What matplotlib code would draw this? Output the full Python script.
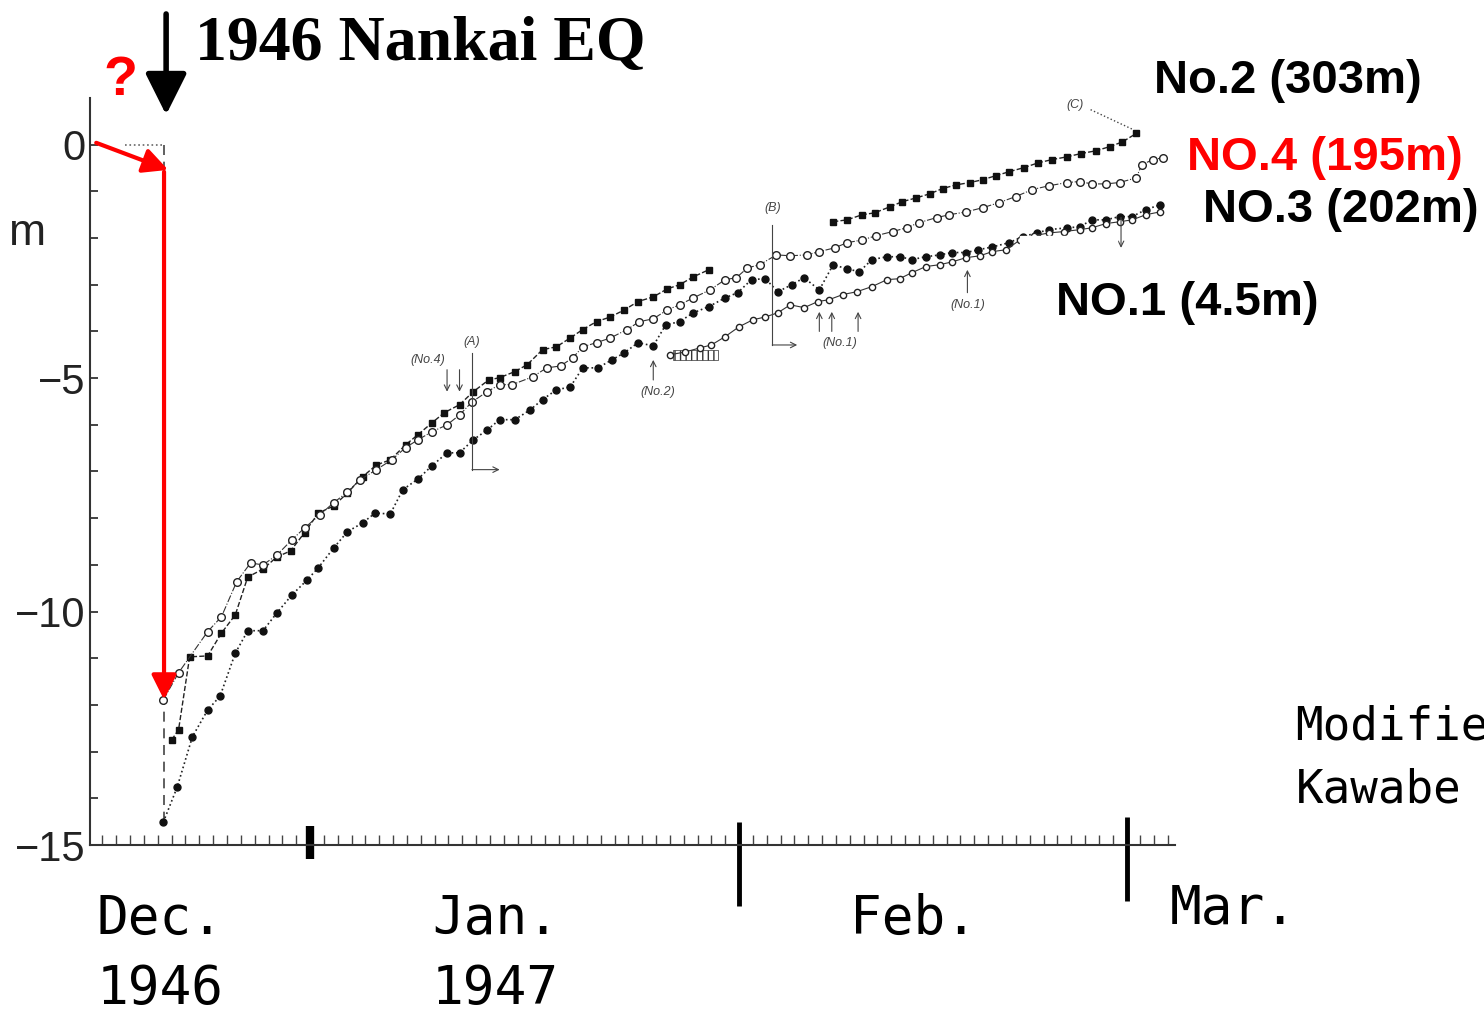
import numpy as np
import matplotlib.pyplot as plt
from matplotlib.patches import Rectangle

plt.rcParams['font.family'] = ['Liberation Sans', 'DejaVu Sans']

nan = np.nan

# days counted from 1 Dec 1946 (Jan 1 = 31, Feb 1 = 62, Mar 1 = 90); values in m
eq_day = 20.45
pre_eq_level = 0.0

days_a = [20.4, 21.4, 22.5, 23.6, 24.5, 25.6, 26.5, 27.6, 28.6, 29.7, 30.8, 31.6, 32.7,
          33.7, 34.8, 35.7, 36.8, 37.7, 38.8, 39.8, 40.9, 41.8, 42.8, 43.8, 44.7, 45.8,
          46.9, 47.8, 48.8, 49.8, 50.7, 51.8, 52.8, 53.7, 54.7, 55.8, 56.7, 57.7, 58.7,
          59.8, 61.0, 61.9, 62.9, 63.9, 64.8, 65.8, 66.7, 67.8, 68.8, 69.8, 70.7, 71.6,
          72.7, 73.6, 74.5, 75.5, 76.5, 77.4, 78.4, 79.3, 80.3, 81.5, 82.5, 83.5, 84.4,
          85.7, 86.6, 87.5, 88.5, 89.5, 90.4, 91.4, 92.4]
vals_a = [-14.51, -13.76, -12.68, -12.11, -11.81, -10.89, -10.41, -10.41, -10.03, -9.64,
          -9.32, -9.06, -8.64, -8.29, -8.10, -7.89, -7.91, -7.39, -7.16, -6.88, -6.60,
          -6.60, -6.32, -6.11, -5.89, -5.89, -5.68, -5.46, -5.25, -5.19, -4.78, -4.78,
          -4.61, -4.46, -4.24, -4.31, -3.86, -3.79, -3.60, -3.47, -3.28, -3.17, -2.89,
          -2.87, -3.15, -3.00, -2.85, -3.11, -2.57, -2.66, -2.72, -2.46, -2.40, -2.40,
          -2.46, -2.40, -2.36, -2.31, -2.31, -2.25, -2.19, -2.10, -1.97, -1.89, -1.82,
          -1.78, -1.76, -1.61, -1.61, -1.54, -1.54, -1.39, -1.29]

days_b = [21.0, 21.5, 22.3, 23.6, 24.6, 25.6, 26.5, 27.6, 28.6, 29.6, 30.6, 31.6, 32.7,
          33.7, 34.8, 35.8, 36.8, 37.9, 38.8, 39.8, 40.7, 41.8, 42.8, 43.9, 44.7, 45.8,
          46.7, 47.8, 48.8, 49.8, 50.7, 51.7, 52.7, 53.7, 54.7, 55.8, 56.8, 57.7, 58.7,
          59.8, nan, 68.8, 69.8, 70.9, 71.8, 72.9, 73.8, 74.8, 75.8, 76.7, 77.7, 78.7,
          79.6, 80.6, 81.5, 82.6, 83.6, 84.6, 85.7, 86.7, 87.8, 88.8, 89.7, 90.7]
vals_b = [-12.75, -12.53, -10.97, -10.95, -10.46, -10.07, -9.26, -9.09, -8.83, -8.70,
          -8.31, -7.89, -7.74, -7.46, -7.11, -6.86, -6.75, -6.43, -6.21, -5.96, -5.74,
          -5.57, -5.29, -5.04, -4.99, -4.86, -4.71, -4.39, -4.33, -4.14, -3.96, -3.79,
          -3.69, -3.54, -3.36, -3.26, -3.09, -3.00, -2.83, -2.68, nan, -1.65, -1.61,
          -1.50, -1.46, -1.33, -1.22, -1.14, -1.05, -0.94, -0.86, -0.81, -0.75, -0.66,
          -0.58, -0.49, -0.39, -0.32, -0.26, -0.19, -0.13, -0.04, 0.06, 0.24]

days_c = [20.4, 21.5, 23.6, 24.6, 25.7, 26.7, 27.6, 28.6, 29.7, 30.6, 31.7, 32.7, 33.7,
          34.6, 35.8, 36.9, 37.9, 38.8, 39.8, 40.9, 41.8, 42.7, 43.8, 44.7, 45.6, 47.1,
          48.1, 49.1, 50.0, 50.7, 51.7, 52.7, 53.9, 54.8, 55.8, 56.8, 57.7, 58.7, 59.9,
          61.0, 61.8, 62.6, 63.5, 64.7, 65.7, 66.9, 67.8, 68.9, 69.8, 70.9, 71.9, 73.1,
          74.1, 75.0, 76.3, 77.2, 78.4, 79.6, 80.8, 82.0, 83.2, 84.4, 85.7, 86.6, 87.5,
          88.5, 89.5, 90.7, 91.1, 91.9, 92.6]
vals_c = [-11.89, -11.31, -10.43, -10.11, -9.36, -8.96, -9.00, -8.79, -8.46, -8.21,
          -7.93, -7.67, -7.44, -7.18, -6.96, -6.75, -6.49, -6.32, -6.15, -6.00, -5.79,
          -5.51, -5.29, -5.14, -5.14, -4.97, -4.78, -4.74, -4.56, -4.33, -4.24, -4.14,
          -3.96, -3.79, -3.73, -3.54, -3.43, -3.28, -3.11, -2.89, -2.85, -2.64, -2.57,
          -2.36, -2.38, -2.36, -2.29, -2.21, -2.10, -2.04, -1.95, -1.86, -1.78, -1.67,
          -1.56, -1.50, -1.44, -1.35, -1.24, -1.11, -0.96, -0.88, -0.81, -0.79, -0.84,
          -0.84, -0.81, -0.71, -0.43, -0.32, -0.28]

days_d = [57.0, 58.1, 59.2, 60.0, 61.0, 62.0, 63.0, 63.9, 64.8, 65.7, 66.7, 67.7, 68.5,
          69.5, 70.5, 71.6, 72.7, 73.6, 74.5, 75.5, 76.5, 77.4, 78.4, 79.4, 80.3, 81.3,
          82.3, 83.3, 84.4, 85.5, 86.6, 87.5, 88.5, 89.5, 90.4, 91.4, 92.4]
vals_d = [-4.50, -4.44, -4.35, -4.29, -4.11, -3.90, -3.75, -3.69, -3.60, -3.43, -3.49,
          -3.36, -3.32, -3.21, -3.15, -3.04, -2.89, -2.87, -2.74, -2.61, -2.57, -2.51,
          -2.42, -2.38, -2.29, -2.25, -2.04, -1.95, -1.89, -1.86, -1.82, -1.78, -1.69,
          -1.65, -1.61, -1.50, -1.44]

month_days = [31, 62, 90]
month_labels = ['Dec.', 'Jan.', 'Feb.', 'Mar.']
year_labels = ['1946', '1947']
ytick_vals = [0, -5, -10, -15]
ytick_labels = ['0', '\u22125', '\u221210', '\u221215']

fig = plt.figure(figsize=(14.84, 10.13), dpi=100)
ax = fig.add_axes([90/1484, 168/1013, 1085/1484, 747/1013])
ax.set_xlim(15.1, 93.5)
ax.set_ylim(-15, 1.0)

ax.spines[['top', 'right']].set_visible(False)
for s in ['left', 'bottom']:
    ax.spines[s].set_linewidth(1.5)
    ax.spines[s].set_color('#333')

ax.set_yticks(ytick_vals)
ax.set_yticklabels(ytick_labels)
ax.set_yticks(np.arange(-15, 1), minor=True)
ax.tick_params(axis='y', which='both', direction='in', length=6, width=1.2, pad=3,
               labelsize=30, colors='#222')
ax.set_xticks([])
ax.set_xticks(np.arange(16, 94), minor=True)
ax.tick_params(axis='x', which='minor', direction='in', length=7, width=1, colors='#444')

# month boundaries
for xd, top, bot, w in zip(month_days, [-14.6, -14.5, -14.4], [-15.3, -16.3, -16.2], [6, 3.5, 3.5]):
    ax.plot([xd, xd], [top, bot], color='black', lw=w, solid_capstyle='butt', clip_on=False)

# pre-earthquake level and the coseismic drop
ax.plot([17.6, eq_day], [pre_eq_level, pre_eq_level], ls=':', color='#666', lw=1.2)
ax.plot([eq_day, eq_day], [pre_eq_level, vals_a[0]], ls=(0, (6, 4)), color='#444', lw=1.2)

ax.plot(days_a, vals_a, ls=':', lw=1.2, color='#222', marker='o', ms=5, mfc='#111', mec='#111')
ax.plot(days_b, vals_b, ls='--', lw=1.0, color='#222', marker='s', ms=4.5, mfc='#111', mec='#111')
ax.plot(days_c, vals_c, ls='-.', lw=0.8, color='#333', marker='o', ms=5.5, mfc='white',
        mec='#222', mew=1)
ax.plot(days_d, vals_d, ls='-', lw=0.8, color='#333', marker='o', ms=4.5, mfc='white',
        mec='#222', mew=1)
ax.add_patch(Rectangle((57.2, -4.62), 3.3, 0.22, fill=False, hatch='|||', lw=0.5, color='#333'))

# erased patch behind the NO.1 label
ax.add_patch(Rectangle((82.3, -2.94), 7.0, 0.99, color='white', zorder=5, clip_on=False))

# small annotations of the original figure
small = dict(fontsize=9, style='italic', color='#444', ha='center', va='center')
thin = dict(arrowstyle='->', color='#444', lw=0.8, shrinkA=0, shrinkB=0)
ax.text(42.7, -4.22, '(A)', **small)
ax.plot([42.7, 42.7], [-4.47, -6.96], color='#444', lw=0.8)
ax.annotate('', xy=(44.7, -6.96), xytext=(42.7, -6.96), arrowprops=thin)
ax.text(39.5, -4.61, '(No.4)', **small)
for xa in [40.9, 41.8]:
    ax.annotate('', xy=(xa, -5.29), xytext=(xa, -4.82), arrowprops=thin)
ax.text(64.4, -1.35, '(B)', **small)
ax.plot([64.4, 64.4], [-1.71, -4.29], color='#444', lw=0.8)
ax.annotate('', xy=(66.2, -4.29), xytext=(64.4, -4.29), arrowprops=thin)
ax.text(56.1, -5.29, '(No.2)', **small)
ax.annotate('', xy=(55.8, -4.61), xytext=(55.8, -5.04), arrowprops=thin)
ax.text(69.3, -4.24, '(No.1)', **small)
for xa in [67.8, 68.7, 70.6]:
    ax.annotate('', xy=(xa, -3.58), xytext=(xa, -4.0), arrowprops=thin)
ax.text(78.5, -3.43, '(No.1)', **small)
ax.annotate('', xy=(78.5, -2.68), xytext=(78.5, -3.17), arrowprops=thin)
ax.text(86.3, 0.86, '(C)', **small)
ax.plot([87.4, 90.5], [0.75, 0.32], ls=':', color='#444', lw=1)
ax.annotate('', xy=(89.6, -2.21), xytext=(89.6, -1.56), arrowprops=thin)

# earthquake arrow and title
ax.annotate('', xy=(20.6, 0.64), xytext=(20.6, 2.8), annotation_clip=False,
            arrowprops=dict(arrowstyle='-|>,head_length=0.6,head_width=0.3', color='black',
                            lw=4, mutation_scale=42, shrinkA=0, shrinkB=0))
ax.text(22.7, 1.82, '1946 Nankai EQ', family='Liberation Serif', weight='bold',
        fontsize=46, ha='left', va='baseline')

# red question annotation
red_head = dict(arrowstyle='-|>,head_length=0.6,head_width=0.3', color='red', lw=3,
                mutation_scale=25, shrinkA=0, shrinkB=0)
ax.annotate('', xy=(20.75, -0.54), xytext=(15.55, 0.04), annotation_clip=False, arrowprops=red_head)
ax.annotate('', xy=(eq_day, vals_c[0]), xytext=(eq_day, -0.58), arrowprops=red_head)
ax.text(17.28, 1.07, '?', color='red', weight='bold', fontsize=40, ha='center', va='baseline')

# well labels
lab = dict(weight='bold', fontsize=34, ha='left', va='baseline')
ax.text(92.0, 1.11, 'No.2 (303m)', color='black', **lab)
ax.text(94.4, -0.54, 'NO.4 (195m)', color='red', **lab)
ax.text(95.5, -1.65, 'NO.3 (202m)', color='black', **lab)
ax.text(84.9, -3.64, 'NO.1 (4.5m)', color='black', zorder=6, **lab)

ax.text(10.55, -2.14, 'm', fontsize=32, ha='center', va='baseline', color='#222')

# month labels under the axis
mono = dict(family='DejaVu Sans Mono', fontsize=38, ha='left', va='baseline')
ax.text(15.6, -16.90, month_labels[0], **mono)
ax.text(15.6, -18.40, year_labels[0], **mono)
ax.text(39.8, -16.90, month_labels[1], **mono)
ax.text(39.8, -18.40, year_labels[1], **mono)
ax.text(70.0, -16.90, month_labels[2], **mono)
ax.text(93.1, -16.68, month_labels[3], **mono)

ax.text(102.2, -12.75, 'Modified', family='DejaVu Sans Mono', fontsize=33, ha='left', va='baseline')
ax.text(102.2, -14.10, 'Kawabe', family='DejaVu Sans Mono', fontsize=33, ha='left', va='baseline')

fig.savefig('out.png', dpi=100)
